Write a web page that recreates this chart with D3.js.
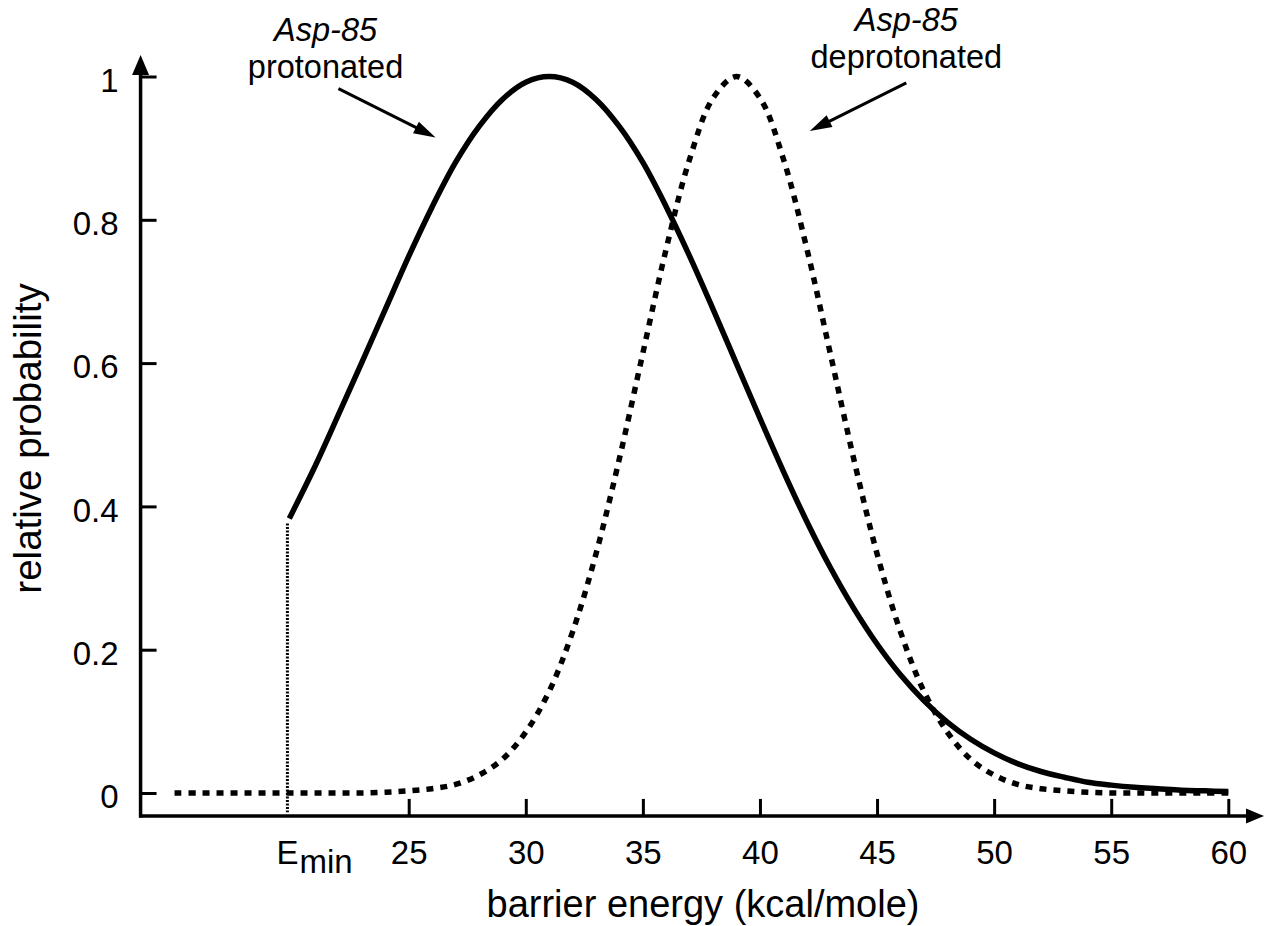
<!DOCTYPE html>
<html>
<head>
<meta charset="utf-8">
<script src="https://cdn.jsdelivr.net/npm/d3@7"></script>
<style>
  body { margin: 0; background: #fff; }
  text { font-family: "Liberation Sans", Arial, Helvetica, sans-serif; fill: #000; }
</style>
</head>
<body>
<svg width="1265" height="926"></svg>
<script>
// ~~~~~~~~data~~~~~~~~~~~~~~~~~~~~~~~~~~~~~~~~~
var energyDeprot = [15, 16, 17, 18, 19, 20, 21, 22, 23, 24, 25, 26, 27, 28, 29, 30, 31, 32, 33, 34, 35, 36, 37,
  38, 39, 40, 41, 42, 43, 44, 45, 46, 47, 48, 49, 50, 51, 52, 53, 54, 55, 56, 57, 58, 59, 60];
var deprotonated = [0, 0, 0, 0, 0, 0, 0, 0, 0, 0.001, 0.003, 0.006, 0.012, 0.025, 0.047, 0.085, 0.142, 0.225, 0.334,
  0.467, 0.614, 0.760, 0.885, 0.970, 1.0, 0.970, 0.885, 0.760, 0.614, 0.467, 0.334, 0.225, 0.142, 0.085, 0.047,
  0.025, 0.012, 0.006, 0.003, 0.001, 0, 0, 0, 0, 0, 0];

var energyProt = [19.9, 21, 22, 23, 24, 25, 26, 27, 28, 29, 30, 31, 32, 33, 34, 35, 36, 37, 38, 39, 40, 41, 42,
  43, 44, 45, 46, 47, 48, 49, 50, 51, 52, 53, 54, 55, 56, 57, 58, 59, 60];
var protonated = [0.383, 0.456, 0.528, 0.601, 0.675, 0.749, 0.818, 0.880, 0.930, 0.968, 0.992, 1.0, 0.992, 0.968,
  0.930, 0.880, 0.818, 0.749, 0.675, 0.599, 0.523, 0.449, 0.379, 0.315, 0.258, 0.208, 0.165, 0.129, 0.099, 0.075,
  0.056, 0.041, 0.030, 0.022, 0.015, 0.011, 0.008, 0.006, 0.004, 0.003, 0.002];

var eMin = 19.82;
var eMinTop = 0.376;

var xTicks = [25, 30, 35, 40, 45, 50, 55, 60];
var yTicks = [0, 0.2, 0.4, 0.6, 0.8, 1];
var yTickLabels = ["0", "0.2", "0.4", "0.6", "0.8", "1"];

var labelTop = ["Asp-85", "Asp-85"];
var labelBottom = ["protonated", "deprotonated"];

var svg = d3.select("svg");

// scales
var x = d3.scaleLinear().domain([25, 60]).range([408.7, 1228.3]);
var y = d3.scaleLinear().domain([0, 1]).range([793, 76.5]);
var axisX = x(13.55);
var axisY = y(-0.032);

// line with a filled head at (x2,y2)
function arrow(x1, y1, x2, y2, len, half, width) {
  var a = Math.atan2(y2 - y1, x2 - x1);
  var c = Math.cos(a), s = Math.sin(a);
  var bx = x2 - len * c, by = y2 - len * s;
  svg.append("line")
    .attr("x1", x1).attr("y1", y1)
    .attr("x2", bx + 2 * c).attr("y2", by + 2 * s)
    .attr("stroke", "#000")
    .attr("stroke-width", width);
  svg.append("path")
    .attr("d", "M" + x2 + "," + y2 +
      "L" + (bx - half * s) + "," + (by + half * c) +
      "L" + (bx + half * s) + "," + (by - half * c) + "Z")
    .attr("fill", "#000");
}

function label(px, py, str, size, anchor, rot) {
  return svg.append("text")
    .attr("transform", "translate(" + px + "," + py + ")" + (rot ? " rotate(" + rot + ")" : ""))
    .attr("text-anchor", anchor)
    .style("font-size", size + "px")
    .text(str);
}

// ~~~~~~~~axes~~~~~~~~~~~~~
var yAxis = d3.axisLeft(y)
  .tickValues(yTicks)
  .tickFormat(function (d, i) { return yTickLabels[i]; })
  .tickSizeInner(-16)
  .tickSizeOuter(0);

var gy = svg.append("g")
  .attr("transform", "translate(" + axisX + ",0)")
  .call(yAxis)
  .attr("font-family", null).attr("font-size", null);
gy.select(".domain").remove();
gy.selectAll(".tick line").attr("stroke", "#000").attr("stroke-width", 3);
gy.selectAll(".tick text")
  .attr("x", -22).attr("dy", "0.45em")
  .style("font-size", "33px");

var xAxis = d3.axisBottom(x)
  .tickValues(xTicks)
  .tickFormat(d3.format("d"))
  .tickSizeInner(-17)
  .tickSizeOuter(0);

var gx = svg.append("g")
  .attr("transform", "translate(0," + axisY + ")")
  .call(xAxis)
  .attr("font-family", null).attr("font-size", null);
gx.select(".domain").remove();
gx.selectAll(".tick line").attr("stroke", "#000").attr("stroke-width", 3);
gx.selectAll(".tick text")
  .attr("y", 48).attr("dy", 0)
  .style("font-size", "33px");

arrow(axisX, axisY + 1.5, axisX, 55, 20, 8.5, 3.5);
arrow(axisX - 1.5, axisY, 1264, axisY, 18, 7.5, 3.5);

// E_min label
var em = svg.append("text")
  .attr("transform", "translate(" + (x(eMin) - 11) + "," + (axisY + 48) + ")")
  .style("font-size", "33px");
em.append("tspan").text("E");
em.append("tspan").attr("dx", 1).attr("dy", 9).text("min");

// axis titles
label(703, 917, "barrier energy (kcal/mole)", 38, "middle");
label(41, 438.5, "relative probability", 38.5, "middle", -90);

// ~~~~~~~~E_min marker~~~~~~~~~~~~~
svg.append("line")
  .attr("x1", x(eMin)).attr("x2", x(eMin))
  .attr("y1", y(eMinTop)).attr("y2", y(-0.027))
  .attr("stroke", "#000")
  .attr("stroke-width", 3)
  .attr("stroke-dasharray", "2,1.5");

// ~~~~~~~~curves~~~~~~~~~~~~~
var line = d3.line()
  .x(function (d) { return x(d[0]); })
  .y(function (d) { return y(d[1]); })
  .curve(d3.curveCatmullRom);

svg.append("path")
  .datum(d3.zip(energyProt, protonated))
  .attr("d", line)
  .attr("fill", "none")
  .attr("stroke", "#000")
  .attr("stroke-width", 5.5)
  .attr("stroke-linejoin", "round");

svg.append("path")
  .datum(d3.zip(energyDeprot, deprotonated))
  .attr("d", line)
  .attr("fill", "none")
  .attr("stroke", "#000")
  .attr("stroke-width", 5.5)
  .attr("stroke-dasharray", "7,7");

// ~~~~~~~~annotations~~~~~~~~~~~~~
label(x(21.45), y(1.05), labelTop[0], 32.5, "middle").style("font-style", "italic");
label(x(21.45), y(0.998), labelBottom[0], 32.5, "middle");
arrow(x(22.0), y(0.983), x(26.15), y(0.915), 22, 6.5, 3);

label(x(46.25), y(1.064), labelTop[1], 32.5, "middle").style("font-style", "italic");
label(x(46.25), y(1.012), labelBottom[1], 32.5, "middle");
arrow(x(46.25), y(0.991), x(42.13), y(0.924), 22, 6.5, 3);
</script>
</body>
</html>
